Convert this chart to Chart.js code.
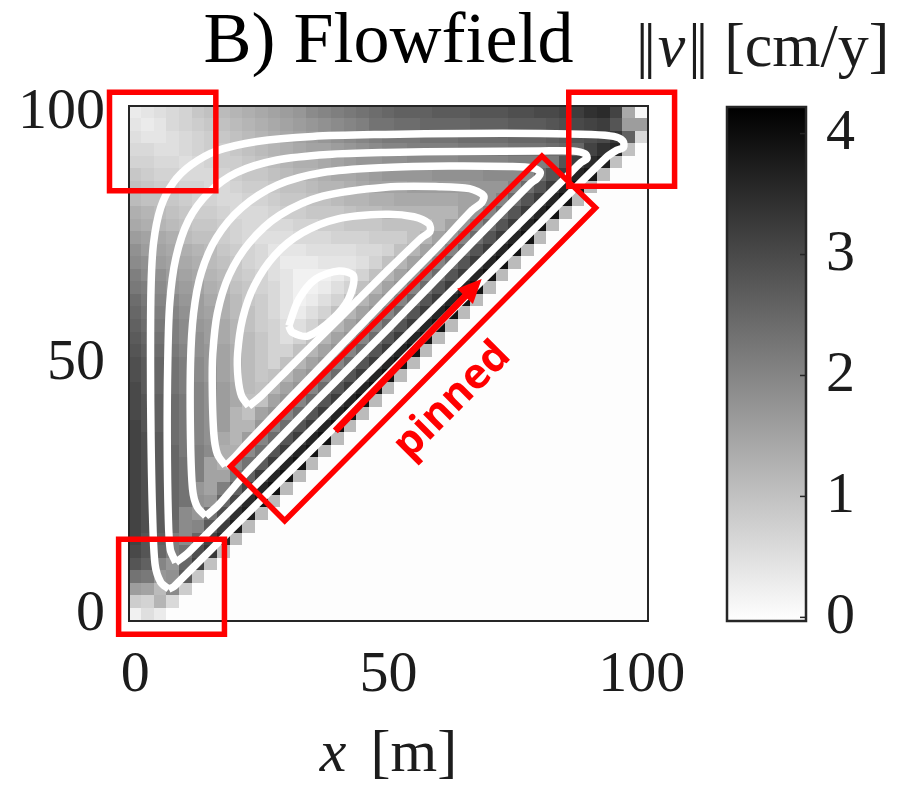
<!DOCTYPE html>
<html>
<head>
<meta charset="utf-8">
<script src="https://cdn.jsdelivr.net/npm/chart.js@4.4.0/dist/chart.umd.min.js"></script>
<style>
  html, body { margin: 0; padding: 0; background: #fff; }
  #wrap { position: relative; width: 903px; height: 797px; }
  #flow { position: absolute; left: 0; top: 0; }
  #bar { position: absolute; left: 700px; top: 0; }
</style>
</head>
<body>
<div id="wrap">
  <canvas id="flow" width="903" height="797"></canvas>
  <canvas id="bar" width="203" height="797"></canvas>
</div>
<script>
// cell centres [m]
const xCells = [0,2.5,5,7.5,10,12.5,15,17.5,20,22.5,25,27.5,30,32.5,35,37.5,40,42.5,45,47.5,50,52.5,55,57.5,60,62.5,65,67.5,70,72.5,75,77.5,80,82.5,85,87.5,90,92.5,95,97.5,100];
const yCells = [100,97.5,95,92.5,90,87.5,85,82.5,80,77.5,75,72.5,70,67.5,65,62.5,60,57.5,55,52.5,50,47.5,45,42.5,40,37.5,35,32.5,30,27.5,25,22.5,20,17.5,15,12.5,10,7.5,5,2.5,0];

// ||v|| [cm/y], one row per yCells entry (top row first)
const speed = [
  [0.3,0.4,0.5,0.6,0.7,0.9,1.0,1.1,1.2,1.3,1.4,1.5,1.6,1.7,1.9,2.0,2.1,2.2,2.3,2.4,2.5,2.6,2.6,2.6,2.7,2.7,2.7,2.8,2.8,2.8,2.9,2.9,3.0,3.0,3.1,3.2,3.4,3.5,3.1,1.4,0.1],
  [0.4,0.3,0.4,0.6,0.7,0.8,0.9,1.0,1.1,1.2,1.3,1.4,1.5,1.6,1.7,1.8,1.9,2.0,2.1,2.3,2.3,2.4,2.4,2.5,2.5,2.5,2.5,2.6,2.6,2.6,2.7,2.7,2.7,2.8,2.9,3.0,3.1,3.2,2.8,1.6,1.6],
  [0.5,0.4,0.4,0.5,0.6,0.7,0.8,0.9,1.0,1.1,1.2,1.3,1.4,1.5,1.6,1.7,1.8,1.9,2.0,2.1,2.2,2.2,2.2,2.3,2.3,2.3,2.4,2.4,2.4,2.4,2.5,2.5,2.5,2.6,2.7,2.8,2.9,3.0,3.3,2.6,0.6],
  [0.6,0.6,0.5,0.5,0.6,0.7,0.8,0.8,0.9,1.0,1.1,1.2,1.3,1.4,1.5,1.5,1.6,1.7,1.8,1.9,2.0,2.0,2.1,2.1,2.1,2.1,2.2,2.2,2.2,2.2,2.3,2.3,2.3,2.4,2.5,2.5,3.1,3.4,3.6,1.0,0],
  [0.7,0.7,0.6,0.6,0.5,0.6,0.7,0.8,0.8,0.9,1.0,1.1,1.2,1.3,1.3,1.4,1.5,1.6,1.7,1.7,1.8,1.8,1.9,1.9,1.9,1.9,2.0,2.0,2.0,2.0,2.1,2.1,2.1,2.2,2.8,3.2,3.5,3.7,1.0,0,0],
  [0.9,0.8,0.7,0.7,0.6,0.6,0.6,0.7,0.8,0.9,0.9,1.0,1.1,1.2,1.2,1.3,1.4,1.4,1.5,1.6,1.7,1.7,1.7,1.7,1.8,1.8,1.8,1.8,1.9,1.9,1.9,1.9,2.4,2.8,3.2,3.6,3.8,1.1,0,0,0],
  [1.0,0.9,0.8,0.8,0.7,0.7,0.6,0.6,0.7,0.8,0.8,0.9,1.0,1.0,1.1,1.2,1.2,1.3,1.4,1.5,1.5,1.5,1.6,1.6,1.6,1.6,1.6,1.7,1.7,1.7,2.0,2.4,2.8,3.2,3.6,3.9,1.1,0,0,0,0],
  [1.1,1.0,1.0,0.9,0.8,0.7,0.7,0.6,0.6,0.7,0.7,0.8,0.9,0.9,1.0,1.0,1.1,1.2,1.2,1.3,1.3,1.4,1.4,1.4,1.4,1.4,1.5,1.5,1.7,2.0,2.4,2.8,3.2,3.6,3.9,1.1,0,0,0,0,0],
  [1.3,1.2,1.1,1.0,0.9,0.8,0.8,0.7,0.6,0.6,0.6,0.7,0.8,0.8,0.9,0.9,0.9,1.0,1.1,1.1,1.2,1.2,1.2,1.2,1.2,1.2,1.5,1.7,2.0,2.4,2.8,3.2,3.6,3.9,1.1,0,0,0,0,0,0],
  [1.4,1.3,1.2,1.1,1.0,0.9,0.9,0.8,0.7,0.6,0.6,0.6,0.6,0.7,0.7,0.8,0.8,0.9,0.9,0.9,1.0,1.0,1.0,1.0,1.2,1.5,1.7,2.0,2.4,2.8,3.2,3.6,3.9,1.1,0,0,0,0,0,0,0],
  [1.6,1.5,1.4,1.3,1.1,1.0,1.0,0.8,0.7,0.6,0.5,0.5,0.5,0.6,0.6,0.6,0.7,0.7,0.7,0.8,0.8,0.8,1.0,1.2,1.5,1.7,2.0,2.4,2.8,3.2,3.6,3.9,1.1,0,0,0,0,0,0,0,0],
  [1.8,1.6,1.5,1.4,1.3,1.2,1.1,0.9,0.8,0.7,0.6,0.4,0.4,0.4,0.5,0.5,0.5,0.5,0.6,0.6,0.7,1.0,1.2,1.5,1.7,2.0,2.4,2.8,3.2,3.6,3.9,1.1,0,0,0,0,0,0,0,0,0],
  [1.9,1.8,1.6,1.5,1.4,1.3,1.1,1.0,0.9,0.7,0.6,0.5,0.3,0.3,0.3,0.4,0.4,0.4,0.5,0.7,1.0,1.2,1.5,1.7,2.0,2.4,2.8,3.2,3.6,3.9,1.1,0,0,0,0,0,0,0,0,0,0],
  [2.1,1.9,1.8,1.6,1.5,1.4,1.2,1.1,0.9,0.8,0.7,0.5,0.4,0.2,0.2,0.2,0.3,0.5,0.7,1.0,1.2,1.5,1.7,2.0,2.4,2.8,3.2,3.6,3.9,1.1,0,0,0,0,0,0,0,0,0,0,0],
  [2.2,2.1,1.9,1.7,1.6,1.5,1.3,1.2,1.0,0.9,0.7,0.6,0.4,0.2,0.2,0.3,0.5,0.7,1.0,1.2,1.5,1.7,2.0,2.4,2.8,3.2,3.6,3.9,1.1,0,0,0,0,0,0,0,0,0,0,0,0],
  [2.4,2.2,2.0,1.9,1.7,1.6,1.4,1.3,1.1,0.9,0.8,0.6,0.4,0.2,0.3,0.5,0.7,1.0,1.2,1.5,1.7,2.0,2.4,2.8,3.2,3.6,3.9,1.1,0,0,0,0,0,0,0,0,0,0,0,0,0],
  [2.5,2.3,2.1,2.0,1.8,1.6,1.5,1.3,1.1,1.0,0.8,0.6,0.4,0.3,0.5,0.7,1.0,1.2,1.5,1.7,2.0,2.4,2.8,3.2,3.6,3.9,1.1,0,0,0,0,0,0,0,0,0,0,0,0,0,0],
  [2.6,2.4,2.2,2.1,1.9,1.7,1.6,1.4,1.2,1.0,0.8,0.7,0.5,0.5,0.7,1.0,1.2,1.5,1.7,2.0,2.4,2.8,3.2,3.6,3.9,1.1,0,0,0,0,0,0,0,0,0,0,0,0,0,0,0],
  [2.7,2.5,2.3,2.1,1.9,1.8,1.6,1.4,1.2,1.1,0.9,0.7,0.5,0.7,1.0,1.2,1.5,1.7,2.0,2.4,2.8,3.2,3.6,3.9,1.1,0,0,0,0,0,0,0,0,0,0,0,0,0,0,0,0],
  [2.8,2.6,2.4,2.2,2.0,1.8,1.7,1.5,1.3,1.1,0.9,0.7,0.7,1.0,1.2,1.5,1.7,2.0,2.4,2.8,3.2,3.6,3.9,1.1,0,0,0,0,0,0,0,0,0,0,0,0,0,0,0,0,0],
  [2.9,2.7,2.5,2.3,2.1,1.9,1.7,1.5,1.3,1.1,0.9,0.7,1.0,1.2,1.5,1.7,2.0,2.4,2.8,3.2,3.6,3.9,1.1,0,0,0,0,0,0,0,0,0,0,0,0,0,0,0,0,0,0],
  [2.9,2.7,2.5,2.3,2.1,1.9,1.7,1.5,1.3,1.1,0.9,1.0,1.2,1.5,1.7,2.0,2.4,2.8,3.2,3.6,3.9,1.1,0,0,0,0,0,0,0,0,0,0,0,0,0,0,0,0,0,0,0],
  [3.0,2.7,2.5,2.3,2.1,2.0,1.8,1.6,1.4,1.1,1.0,1.2,1.5,1.7,2.0,2.4,2.8,3.2,3.6,3.9,1.1,0,0,0,0,0,0,0,0,0,0,0,0,0,0,0,0,0,0,0,0],
  [3.0,2.8,2.6,2.4,2.2,2.0,1.8,1.6,1.4,1.0,1.0,1.5,1.7,2.0,2.4,2.8,3.2,3.6,3.9,1.1,0,0,0,0,0,0,0,0,0,0,0,0,0,0,0,0,0,0,0,0,0],
  [3.0,2.8,2.6,2.4,2.2,2.0,1.8,1.6,1.2,1.0,1.5,1.7,2.0,2.4,2.8,3.2,3.6,3.9,1.1,0,0,0,0,0,0,0,0,0,0,0,0,0,0,0,0,0,0,0,0,0,0],
  [3.1,2.8,2.6,2.4,2.2,2.0,1.8,1.6,1.2,1.2,1.7,2.0,2.4,2.8,3.2,3.6,3.9,1.1,0,0,0,0,0,0,0,0,0,0,0,0,0,0,0,0,0,0,0,0,0,0,0],
  [3.1,2.9,2.7,2.4,2.2,2.0,1.8,1.4,1.2,1.6,2.0,2.4,2.8,3.2,3.6,3.9,1.1,0,0,0,0,0,0,0,0,0,0,0,0,0,0,0,0,0,0,0,0,0,0,0,0],
  [3.1,2.9,2.7,2.5,2.2,2.1,1.9,1.3,1.3,1.9,2.3,2.8,3.2,3.6,3.9,1.1,0,0,0,0,0,0,0,0,0,0,0,0,0,0,0,0,0,0,0,0,0,0,0,0,0],
  [3.1,2.9,2.7,2.5,2.3,2.1,1.5,1.3,1.9,2.3,2.7,3.2,3.6,3.9,1.1,0,0,0,0,0,0,0,0,0,0,0,0,0,0,0,0,0,0,0,0,0,0,0,0,0,0],
  [3.1,2.9,2.7,2.5,2.3,2.1,1.5,1.5,2.2,2.6,3.2,3.6,3.9,1.1,0,0,0,0,0,0,0,0,0,0,0,0,0,0,0,0,0,0,0,0,0,0,0,0,0,0,0],
  [3.1,2.9,2.7,2.5,2.3,1.7,1.5,2.1,2.6,3.1,3.6,3.9,1.1,0,0,0,0,0,0,0,0,0,0,0,0,0,0,0,0,0,0,0,0,0,0,0,0,0,0,0,0],
  [3.1,2.9,2.7,2.5,2.3,1.8,1.7,2.5,3.0,3.5,3.9,1.1,0,0,0,0,0,0,0,0,0,0,0,0,0,0,0,0,0,0,0,0,0,0,0,0,0,0,0,0,0],
  [3.1,2.9,2.7,2.5,1.9,1.7,2.3,2.9,3.4,3.7,1.1,0,0,0,0,0,0,0,0,0,0,0,0,0,0,0,0,0,0,0,0,0,0,0,0,0,0,0,0,0,0],
  [3.1,2.9,2.7,2.4,1.9,2.0,2.7,3.2,3.7,1.1,0,0,0,0,0,0,0,0,0,0,0,0,0,0,0,0,0,0,0,0,0,0,0,0,0,0,0,0,0,0,0],
  [3.1,2.8,2.6,2.1,1.9,2.5,3.1,3.5,1.1,0,0,0,0,0,0,0,0,0,0,0,0,0,0,0,0,0,0,0,0,0,0,0,0,0,0,0,0,0,0,0,0],
  [3.0,2.8,2.5,2.1,2.3,2.9,3.3,1.0,0,0,0,0,0,0,0,0,0,0,0,0,0,0,0,0,0,0,0,0,0,0,0,0,0,0,0,0,0,0,0,0,0],
  [2.8,2.6,2.0,1.7,2.5,3.1,1.0,0,0,0,0,0,0,0,0,0,0,0,0,0,0,0,0,0,0,0,0,0,0,0,0,0,0,0,0,0,0,0,0,0,0],
  [2.3,2.2,1.7,1.8,2.7,0.9,0,0,0,0,0,0,0,0,0,0,0,0,0,0,0,0,0,0,0,0,0,0,0,0,0,0,0,0,0,0,0,0,0,0,0],
  [1.6,1.5,1.1,1.9,0.8,0,0,0,0,0,0,0,0,0,0,0,0,0,0,0,0,0,0,0,0,0,0,0,0,0,0,0,0,0,0,0,0,0,0,0,0],
  [0.8,0.7,1.2,0.6,0,0,0,0,0,0,0,0,0,0,0,0,0,0,0,0,0,0,0,0,0,0,0,0,0,0,0,0,0,0,0,0,0,0,0,0,0],
  [0.2,0.5,0.3,0,0,0,0,0,0,0,0,0,0,0,0,0,0,0,0,0,0,0,0,0,0,0,0,0,0,0,0,0,0,0,0,0,0,0,0,0,0]
];

// streamlines (white), outermost first
const stream1X = [6.6,5.0,3.9,3.4,3.1,3.0,3.1,3.6,5.0,7.5,11.0,16.0,24.0,35.0,49.4,65.0,80.0,90.0,94.5,96.3,96.4,95.2,93.0,80.0,65.0,50.0,35.0,20.0,12.0,9.0,7.6,6.6];
const stream1Y = [5.1,6.5,10.0,20.0,35.0,50.0,65.0,74.0,81.0,86.0,89.5,92.3,94.2,95.2,95.6,95.8,95.8,95.6,95.2,94.3,93.0,92.5,91.0,78.0,63.0,48.0,33.0,18.0,10.0,7.0,5.6,5.1];
const stream2X = [8.0,6.9,6.5,6.3,6.4,6.8,8.0,10.5,14.5,20.0,28.0,38.0,49.4,65.0,80.0,86.5,88.9,89.2,88.0,85.0,70.0,50.0,30.0,15.0,10.5,8.0];
const stream2Y = [10.4,13.0,20.0,35.0,50.0,62.0,71.0,78.5,84.0,88.0,90.5,91.6,92.0,92.2,92.3,92.3,91.7,90.8,90.0,87.0,72.0,52.0,32.0,17.0,12.4,10.4];
const stream3X = [13.9,12.2,11.3,10.9,10.9,11.5,13.0,16.0,21.0,28.0,37.0,49.4,62.0,74.0,78.5,80.0,79.3,78.0,65.0,50.0,35.0,22.0,16.3,13.9];
const stream3Y = [19.6,21.5,25.0,35.0,50.0,60.0,68.0,75.0,81.0,85.5,88.0,89.0,89.3,89.2,88.9,88.0,86.8,85.8,72.5,57.0,41.8,28.3,21.7,19.6];
const stream4X = [17.8,16.2,15.5,15.2,15.3,16.2,18.5,22.5,28.5,37.0,49.4,60.0,66.0,68.8,68.4,66.5,60.0,50.0,40.0,30.0,22.0,19.5,17.8];
const stream4Y = [29.6,32.0,36.0,45.0,52.0,60.0,67.5,74.0,79.5,83.3,85.1,85.2,84.8,83.4,82.0,80.5,73.5,63.3,52.9,42.5,34.0,31.2,29.6];
const stream5X = [22.4,21.0,20.3,20.2,21.2,23.5,27.5,33.0,40.0,49.4,55.0,58.0,58.2,56.5,50.0,40.0,30.0,25.0,22.4];
const stream5Y = [41.5,43.5,47.0,52.0,59.0,65.5,71.5,76.0,78.8,79.7,79.2,77.8,76.3,75.0,68.7,58.7,48.7,43.7,41.5];
const stream6X = [30.3,32.3,35.6,40.2,43.1,42.1,38.9,34.2,31.0,30.3];
const stream6Y = [57.5,62.8,66.8,68.4,67.4,62.8,58.8,55.5,56.2,57.5];

// red annotations (data units)
const boxTopLeftX = [-5.1,15.9,15.9,-5.1,-5.1];
const boxTopLeftY = [104.0,104.0,84.4,84.4,104.0];
const boxTopRightX = [85.6,106.5,106.5,85.6,85.6];
const boxTopRightY = [104.0,104.0,85.3,85.3,104.0];
const boxBottomLeftX = [-3.3,17.6,17.6,-3.3,-3.3];
const boxBottomLeftY = [15.0,15.0,-3.9,-3.9,15.0];
const boxPinnedX = [18.8,80.3,90.9,29.5,18.8];
const boxPinnedY = [29.5,91.3,81.0,18.7,29.5];
const arrowX = [39.5,68.4];
const arrowY = [36.6,66.8];
const pinnedAt = [62.6,42.6];

const axisTicks = [0, 50, 100];
const colorTicks = [0, 1, 2, 3, 4];
const cMin = -0.03, cMax = 4.22;

const serif = '"Liberation Serif", "DejaVu Serif", serif';
const ink = '#1c1c1c';
const red = '#ff0000';
Chart.defaults.font.family = serif;
Chart.defaults.color = ink;

function grey(v) {
  const t = Math.min(1, Math.max(0, (v - cMin) / (cMax - cMin)));
  const g = Math.round(255 * (1 - t));
  return `rgb(${g},${g},${g})`;
}

function pts(xs, ys) {
  return xs.map((x, k) => ({ x: x, y: ys[k] }));
}

function stream(xs, ys) {
  return {
    data: pts(xs, ys), showLine: true, borderColor: '#ffffff', borderWidth: 7.5,
    pointRadius: 0, tension: 0.3, fill: false, order: 2
  };
}

function redBox(xs, ys) {
  return {
    data: pts(xs, ys), showLine: true, borderColor: red, borderWidth: 5.5,
    pointRadius: 0, tension: 0, fill: false, clip: false, order: 1,
    borderJoinStyle: 'miter', borderCapStyle: 'square'
  };
}

// grey cells + frame
const heatmap = {
  id: 'heatmap',
  beforeDatasetsDraw(chart) {
    const { ctx, chartArea: a, scales: { x, y } } = chart;
    const half = 1.25;
    ctx.save();
    ctx.beginPath();
    ctx.rect(a.left, a.top, a.width, a.height);
    ctx.clip();
    speed.forEach((row, r) => {
      row.forEach((v, c) => {
        const x0 = Math.floor(x.getPixelForValue(xCells[c] - half));
        const x1 = Math.ceil(x.getPixelForValue(xCells[c] + half));
        const y0 = Math.floor(y.getPixelForValue(yCells[r] + half));
        const y1 = Math.ceil(y.getPixelForValue(yCells[r] - half));
        ctx.fillStyle = grey(v);
        ctx.fillRect(x0, y0, x1 - x0, y1 - y0);
      });
    });
    ctx.restore();
    ctx.save();
    ctx.strokeStyle = '#262626';
    ctx.lineWidth = 2;
    ctx.strokeRect(a.left, a.top, a.width, a.height);
    ctx.restore();
  }
};

function drawRun(ctx, pieces, x, y, size, align) {
  const fontOf = p => `${p.italic ? 'italic ' : ''}${size}px ${serif}`;
  let total = 0;
  pieces.forEach(p => {
    ctx.font = fontOf(p);
    total += (p.gap || 0) + (p.text ? ctx.measureText(p.text).width : 0);
  });
  let cx = align === 'center' ? x - total / 2 : x;
  pieces.forEach(p => {
    cx += p.gap || 0;
    if (p.text) {
      ctx.font = fontOf(p);
      ctx.fillText(p.text, cx, y);
      cx += ctx.measureText(p.text).width;
    }
  });
}

// arrow, "pinned", axis label and colorbar label
const notes = {
  id: 'notes',
  afterDatasetsDraw(chart) {
    const { ctx, scales: { x, y } } = chart;
    const ax0 = x.getPixelForValue(arrowX[0]), ay0 = y.getPixelForValue(arrowY[0]);
    const ax1 = x.getPixelForValue(arrowX[1]), ay1 = y.getPixelForValue(arrowY[1]);
    const ang = Math.atan2(ay1 - ay0, ax1 - ax0);
    const cs = Math.cos(ang), sn = Math.sin(ang);
    const headLen = 24, headHalf = 11;
    const bx = ax1 - headLen * cs, by = ay1 - headLen * sn;
    ctx.save();
    ctx.strokeStyle = red;
    ctx.fillStyle = red;
    ctx.lineWidth = 7;
    ctx.beginPath();
    ctx.moveTo(ax0, ay0);
    ctx.lineTo(bx + 2 * cs, by + 2 * sn);
    ctx.stroke();
    ctx.beginPath();
    ctx.moveTo(ax1, ay1);
    ctx.lineTo(bx - headHalf * sn, by + headHalf * cs);
    ctx.lineTo(bx + headHalf * sn, by - headHalf * cs);
    ctx.closePath();
    ctx.fill();

    ctx.translate(x.getPixelForValue(pinnedAt[0]), y.getPixelForValue(pinnedAt[1]));
    ctx.rotate(-Math.PI / 4);
    ctx.font = 'bold 42px "Open Sans", "Liberation Sans", sans-serif';
    ctx.textAlign = 'center';
    ctx.textBaseline = 'middle';
    ctx.fillText('pinned', 0, 0);
    ctx.restore();
  },
  afterDraw(chart) {
    const { ctx, chartArea: a } = chart;
    ctx.save();
    ctx.fillStyle = ink;
    ctx.textBaseline = 'alphabetic';
    ctx.textAlign = 'left';
    drawRun(ctx, [{ text: 'x', italic: true }, { gap: 24 }, { text: '[m]' }], (a.left + a.right) / 2, 771, 60, 'center');
    drawRun(ctx, [
      { text: '|' }, { gap: -5 }, { text: '|' }, { gap: 2 },
      { text: 'v', italic: true }, { gap: 3 },
      { text: '|' }, { gap: -5 }, { text: '|' }, { gap: 16 },
      { text: '[cm/y]' }
    ], 636, 66, 62, 'left');
    ctx.restore();
  }
};

new Chart(document.getElementById('flow'), {
  type: 'scatter',
  data: {
    datasets: [
      redBox(boxTopLeftX, boxTopLeftY),
      redBox(boxTopRightX, boxTopRightY),
      redBox(boxBottomLeftX, boxBottomLeftY),
      redBox(boxPinnedX, boxPinnedY),
      stream(stream1X, stream1Y),
      stream(stream2X, stream2Y),
      stream(stream3X, stream3Y),
      stream(stream4X, stream4Y),
      stream(stream5X, stream5Y),
      stream(stream6X, stream6Y)
    ]
  },
  options: {
    responsive: false,
    animation: false,
    events: [],
    layout: { padding: { left: 0, right: 255, top: 0, bottom: 0 } },
    plugins: {
      legend: { display: false },
      tooltip: { enabled: false },
      title: {
        display: true, text: 'B) Flowfield', fullSize: false, color: '#000',
        font: { size: 72, weight: 'normal', lineHeight: 1.2 },
        padding: { top: 0, bottom: 19.6 }
      }
    },
    scales: {
      x: {
        type: 'linear', min: -1.25, max: 101.25,
        afterBuildTicks: s => { s.ticks = axisTicks.map(v => ({ value: v })); },
        afterFit: s => { s.height = 176; },
        grid: { display: false, drawTicks: false },
        border: { display: false },
        ticks: { font: { size: 58 }, color: ink, padding: 20, maxRotation: 0 }
      },
      y: {
        type: 'linear', min: -1.25, max: 101.25,
        afterBuildTicks: s => { s.ticks = axisTicks.map(v => ({ value: v })); },
        afterFit: s => { s.width = 129; },
        grid: { display: false, drawTicks: false },
        border: { display: false },
        ticks: { font: { size: 58 }, color: ink, padding: 24 }
      }
    }
  },
  plugins: [heatmap, notes]
});

// colorbar
const barFrame = {
  id: 'barFrame',
  afterDraw(chart) {
    const { ctx, chartArea: a, scales: { y } } = chart;
    ctx.save();
    ctx.strokeStyle = '#262626';
    ctx.lineWidth = 1.5;
    colorTicks.forEach(v => {
      const py = y.getPixelForValue(v);
      ctx.beginPath();
      ctx.moveTo(a.right, py);
      ctx.lineTo(a.right - 6, py);
      ctx.stroke();
    });
    ctx.lineWidth = 2.5;
    ctx.strokeRect(a.left, a.top, a.width, a.height);
    ctx.restore();
  }
};

new Chart(document.getElementById('bar'), {
  type: 'bar',
  data: {
    labels: [''],
    datasets: [{
      data: [[cMin, cMax]],
      barPercentage: 1,
      categoryPercentage: 1,
      borderWidth: 0,
      backgroundColor: c => {
        const area = c.chart.chartArea;
        if (!area) return '#888';
        const g = c.chart.ctx.createLinearGradient(0, area.bottom, 0, area.top);
        g.addColorStop(0, grey(cMin));
        g.addColorStop(1, grey(cMax));
        return g;
      }
    }]
  },
  options: {
    responsive: false,
    animation: false,
    events: [],
    layout: { padding: { left: 27, right: 0, top: 107, bottom: 176 } },
    plugins: { legend: { display: false }, tooltip: { enabled: false } },
    scales: {
      x: { display: false },
      y: {
        position: 'right', min: cMin, max: cMax,
        afterBuildTicks: s => { s.ticks = colorTicks.map(v => ({ value: v })); },
        afterFit: s => { s.width = 97; },
        grid: { display: false, drawTicks: false },
        border: { display: false },
        ticks: { font: { size: 58 }, color: ink, padding: 20 }
      }
    }
  },
  plugins: [barFrame]
});
</script>
</body>
</html>
